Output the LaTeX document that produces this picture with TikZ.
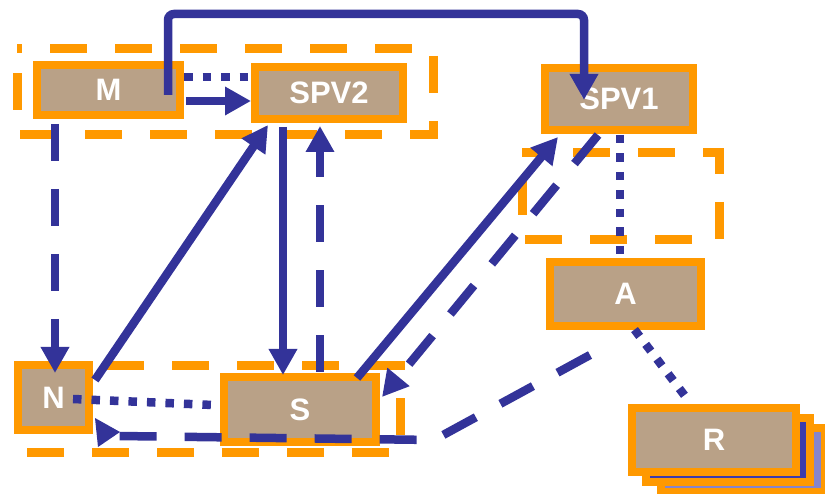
\documentclass[tikz,border=0pt]{standalone}
\usepackage{fontspec}
\setmainfont{Liberation Sans}
\usetikzlibrary{arrows.meta,calc}
\definecolor{boxorange}{HTML}{FF9900}
\definecolor{boxfill}{HTML}{B9A187}
\definecolor{linkblue}{HTML}{333399}
\definecolor{layerblue}{HTML}{3C3CAA}
\definecolor{layerlight}{HTML}{8585CC}
\begin{document}
\begin{tikzpicture}[x=1pt,y=-1pt,
  box/.style={draw=boxorange, line width=8pt, fill=boxfill, text=white,
    font=\fontsize{31}{31}\selectfont\bfseries, inner sep=0pt, outer sep=0pt},
  group/.style={draw=boxorange, line width=9pt, dash pattern=on 37pt off 28pt},
  link/.style={draw=linkblue, line width=8.5pt},
  tipped/.style={-{Triangle[length=26pt,width=27pt]}},
  solidarrow/.style={link, tipped},
  dashedlink/.style={link, dash pattern=on 37pt off 28pt},
  dottedlink/.style={link, dash pattern=on 8.5pt off 10pt},
]
\useasboundingbox (0,0) rectangle (825,494);

% dashed group frames
\draw[group, dash phase=32pt] (17,49) -- (433,49) -- (433,135) -- (17,135) -- cycle;
\draw[group, dash phase=14pt] (522,153) -- (719,153) -- (719,240) -- (522,240) -- cycle;
\draw[group, dash phase=46pt] (23,366) -- (400,366) -- (400,452) -- (23,452) -- cycle;

% stacked R layers
\node[box, fill=layerlight, minimum width=164pt, minimum height=64pt] (R3) at (743,460) {};
\node[box, fill=layerblue, minimum width=164pt, minimum height=64pt] (R2) at (728,450) {};

% boxes
\node[box, minimum width=143pt, minimum height=50pt] (M) at (108.5,90) {M};
\node[box, minimum width=148pt, minimum height=52pt] (SPV2) at (329,93) {SPV2};
\node[box, minimum width=148pt, minimum height=62pt] (SPV1) at (619,99) {SPV1};
\node[box, minimum width=151pt, minimum height=64pt] (A) at (625.5,294) {A};
\node[box, minimum width=71pt, minimum height=65pt] (N) at (53.5,397.5) {N};
\node[box, minimum width=152pt, minimum height=65pt] (S) at (300,409.5) {S};
\node[box, minimum width=164pt, minimum height=64pt] (R) at (714,440) {R};

% M -> SPV1 over the top
\coordinate (m1) at ($(M.east)+(-12,5)$);
\coordinate (s1) at ($(SPV1.center)+(-35,1)$);
\coordinate (topy) at (0,14);
\draw[solidarrow, rounded corners=6pt] (m1) -- (m1 |- topy) -- (s1 |- topy) -- (s1);

% M -- SPV2
\draw[dottedlink] ($(M.east)+(4,-13)$) -- ($(SPV2.west)+(-5,-16)$);
\draw[solidarrow] ($(M.east)+(6,11)$) -- ($(SPV2.west)+(-4,8)$);

% M -> N
\draw[dashedlink, tipped] ($(M.south west)+(18,9)$) -- ($(N.north)+(1.5,8)$);

% N -> SPV2
\draw[solidarrow] ($(N.north east)+(6,15)$) -- ($(SPV2.south west)+(13,6)$);

% SPV2 <-> S
\draw[solidarrow] ($(SPV2.south)+(-46,8)$) -- ($(S.north)+(-17,-2)$);
\draw[dashedlink, tipped] ($(S.north)+(20,-5)$) -- ($(SPV2.south)+(-9,7)$);

% S <-> SPV1
\draw[solidarrow] ($(S.north east)+(-19,1)$) -- ($(SPV1.south west)+(13,7)$);
\draw[dashedlink, tipped] ($(SPV1.south)+(-21,5)$) -- ($(S.east)+(6,-12.5)$);

% dotted links
\draw[dottedlink] ($(SPV1.south)+(1,5)$) -- ($(A.north)+(-5.5,-8)$);
\draw[dottedlink] ($(A.south)+(9,3.6)$) -- ($(R.north)+(-29,-12)$);
\draw[dottedlink] ($(N.center)+(19.5,1.5)$) -- ($(S.west)+(-11,-4.5)$);

% A -> N dashed
\coordinate (a1) at ($(A.south)+(-35.5,29)$);
\coordinate (c1) at ($(S.south east)+(58,-2)$);
\coordinate (n1) at ($(N.south east)+(29,6)$);
\draw[dashedlink] (a1) -- (c1) -- (n1);
\fill[linkblue] ($(N.south east)+(6,-12)$) -- ($(N.south east)+(9,17)$) -- ($(N.south east)+(31,2)$) -- cycle;
\end{tikzpicture}
\end{document}
